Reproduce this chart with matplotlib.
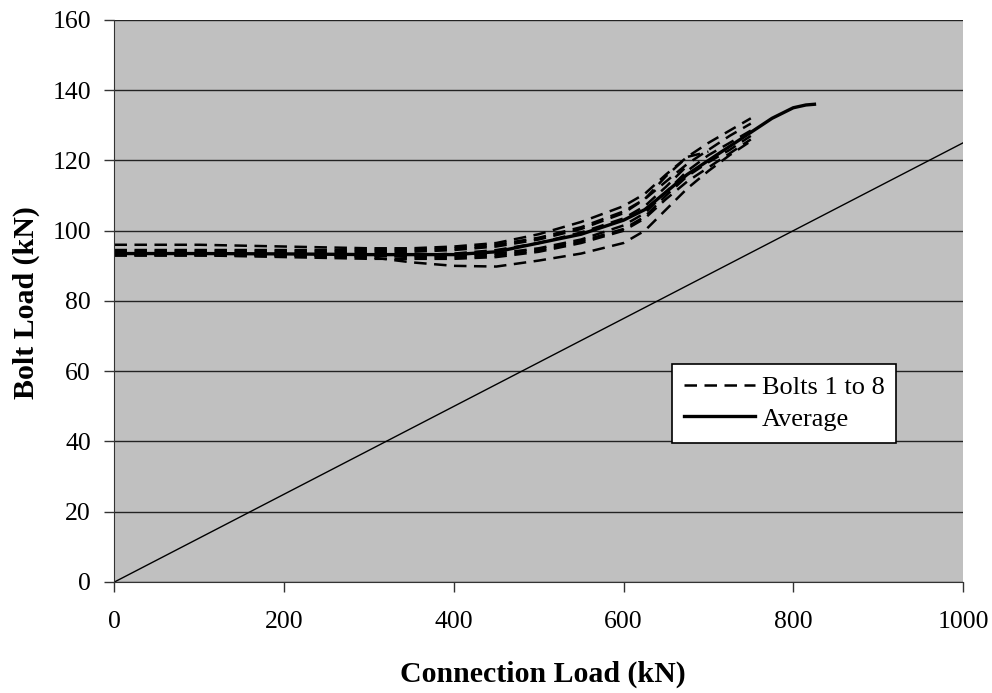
import matplotlib
matplotlib.use("Agg")
import matplotlib.pyplot as plt

# connection load grid shared by the bolt traces (kN)
bolt_x = [0, 100, 200, 300, 350, 400, 450, 500, 550, 600, 625, 650, 675, 700, 725, 750]

# bolt loads (kN); shorter ones stop early
bolt_1 = [96, 96, 95.5, 95, 95, 95.5, 96.5, 99, 102.5, 107, 110.5, 116, 121, 125, 128.5, 132]
bolt_2 = [93, 93, 93, 92.5, 91, 90, 89.8, 91.5, 93.5, 96.5, 100, 106, 112, 117, 121.5, 125.5]
bolt_3 = [93.5, 93.5, 93, 93, 93, 93, 93.5, 95, 97.5, 101.5, 105, 111, 117, 121.5, 125, 128.5]
bolt_4 = [94, 94, 94, 94, 94, 94.5, 95.5, 97.5, 100.5, 105, 109, 115.5, 121, 122.5]
bolt_5 = [93, 93, 92.5, 92, 92, 92, 92.5, 94, 96.5, 100, 103.5, 109, 114, 118, 122, 126]
bolt_6 = [93.5, 93.5, 93.5, 93, 93, 93.5, 94.5, 96.5, 99.5, 103.5, 107, 112.5, 118.5]
bolt_7 = [94.5, 94.5, 94.5, 94.5, 94.5, 95, 96, 98, 101, 105.5, 109, 114, 119, 123, 127, 130.5]
bolt_8 = [93, 93, 93, 93, 92.5, 92.5, 93, 94.5, 97, 100.5, 104, 110, 115.5, 119.5, 123, 127]
bolts = [bolt_1, bolt_2, bolt_3, bolt_4, bolt_5, bolt_6, bolt_7, bolt_8]

avg_x = [0, 100, 200, 300, 400, 450, 500, 550, 600, 625, 650, 675, 700, 725, 750, 775, 800, 815, 825]
avg_y = [93.5, 93.5, 93.4, 93.2, 93.2, 94, 96.5, 99, 103, 106, 111, 116, 120, 124, 128, 132, 135, 135.8, 136]

# reference line: connection load shared equally by 8 bolts
ref_x = [0, 1000]
ref_y = [0, 125]

plt.rcParams["font.family"] = ["Liberation Serif", "DejaVu Serif"]

fig = plt.figure(figsize=(9.92, 6.93), dpi=100)
ax = fig.add_axes([0.1154, 0.1602, 0.8553, 0.811])
ax.set_facecolor("#c0c0c0")

for i, b in enumerate(bolts):
    ax.plot(bolt_x[:len(b)], b, color="black", lw=1.8, dashes=(5, 3),
            label="Bolts 1 to 8" if i == 0 else None)
ax.plot(avg_x, avg_y, color="black", lw=2.4, label="Average")
ax.plot(ref_x, ref_y, color="black", lw=1.0)

ax.set_xlim(0, 1000)
ax.set_ylim(0, 160)
ax.set_xticks(range(0, 1001, 200))
ax.set_yticks(range(0, 161, 20))
ax.yaxis.grid(True, color="#222222", lw=1.0)
ax.set_axisbelow(True)
for s in ["top", "right"]:
    ax.spines[s].set_visible(False)
for s in ["left", "bottom"]:
    ax.spines[s].set_color("#333333")
ax.tick_params(direction="out", length=7, width=1, colors="#333333",
               labelcolor="black", labelsize=18.5)
ax.tick_params(axis="y", pad=10)
ax.tick_params(axis="x", pad=14)

ax.set_xlabel("Connection Load (kN)", fontsize=21.5, fontweight="bold")
ax.set_ylabel("Bolt Load (kN)", fontsize=21.5, fontweight="bold")
ax.xaxis.set_label_coords(0.505, -0.14)
ax.yaxis.set_label_coords(-0.088, 0.498)

leg = ax.legend(loc="upper left", bbox_to_anchor=(0.657, 0.388), fontsize=19,
                frameon=True, fancybox=False, framealpha=1,
                edgecolor="black", handlelength=2.7, borderpad=0.45,
                labelspacing=0.3, handletextpad=0.25, borderaxespad=0)
leg.get_frame().set_linewidth(1.2)

fig.savefig("out.png", dpi=100)
